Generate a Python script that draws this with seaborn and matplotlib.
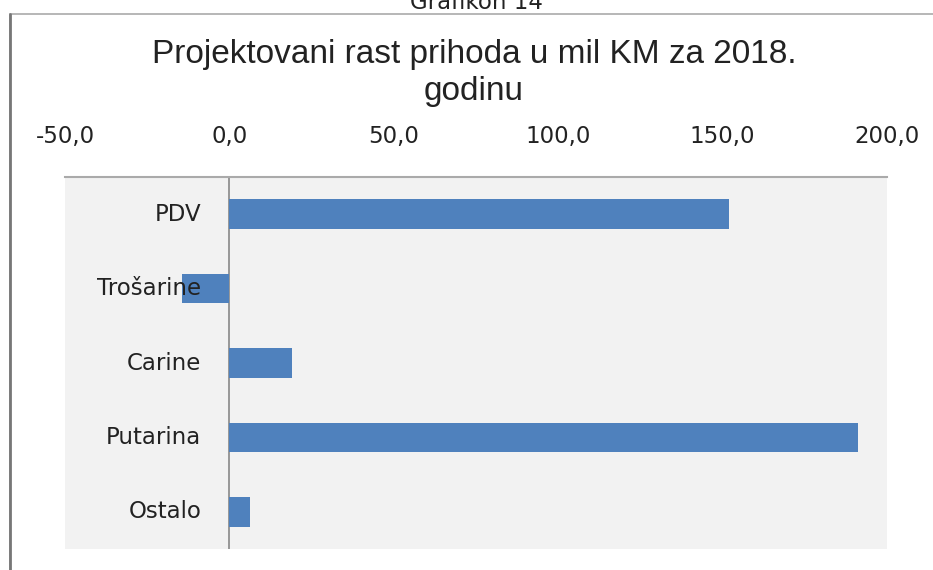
import numpy as np
import pandas as pd
import matplotlib
import matplotlib.pyplot as plt
import matplotlib.patches as mpatches
from matplotlib.lines import Line2D
from matplotlib.ticker import FuncFormatter
import seaborn as sns

# ── Data ─────────────────────────────────────────────────────────────────────
CATEGORIES = ['PDV', 'Trošarine', 'Carine', 'Putarina', 'Ostalo']
VALUES = [151.9, -14.4, 18.9, 191.3, 6.3]
X_TICKS = [-50, 0, 50, 100, 150, 200]

BAR_COLOR = '#4F81BD'

sns.set_theme(style='white')
matplotlib.rcParams['font.family'] = ['DejaVu Sans']

df = pd.DataFrame({'Kategorija': CATEGORIES, 'Vrijednost': VALUES})

fig = plt.figure(figsize=(9.33, 5.7), dpi=100)
ax = fig.add_axes([65 / 933, 21 / 570, 822 / 933, 372 / 570])

sns.barplot(data=df, y='Kategorija', x='Vrijednost', order=CATEGORIES,
            color=BAR_COLOR, orient='h', width=0.4, saturation=1,
            edgecolor='none', ax=ax, zorder=2)

ax.set_facecolor('#F2F2F2')
ax.set_xlim(X_TICKS[0], X_TICKS[-1])
ax.set_xticks(X_TICKS)
ax.xaxis.set_major_formatter(FuncFormatter(lambda v, p: f'{v:.1f}'.replace('.', ',')))
ax.xaxis.tick_top()
ax.tick_params(axis='x', length=0, pad=21, labelsize=16.5, labelcolor='#222')

# category labels sit inside the plot area, left of the zero line
ax.set_yticks(range(len(CATEGORIES)))
ax.set_yticklabels([])
ax.tick_params(axis='y', length=0)
for i, name in enumerate(CATEGORIES):
    ax.text(-8.5, i, name, ha='right', va='center', fontsize=16.5,
            color='#222', zorder=3)

ax.set_xlabel('')
ax.set_ylabel('')
ax.axvline(0, color='#888888', linewidth=1.2, zorder=0.5)

for side in ['left', 'right', 'bottom']:
    ax.spines[side].set_visible(False)
ax.spines['top'].set_color('#AAAAAA')
ax.spines['top'].set_linewidth(1.5)

# chart frame
fig.add_artist(mpatches.Rectangle((10 / 933, -0.05), 1.0, 1 - 14 / 570 + 0.05,
                                  transform=fig.transFigure, fill=False,
                                  edgecolor='#AAAAAA', linewidth=1.2))
fig.add_artist(Line2D([10 / 933, 10 / 933], [0, 1 - 14 / 570],
                      transform=fig.transFigure, color='#777777', linewidth=2))

fig.text(476 / 933, 1 - 9 / 570, 'Grafikon 14', ha='center', va='baseline',
         fontsize=16.5, color='#222')

title_font = dict(ha='center', va='baseline', fontsize=24, color='#222',
                  family=['Liberation Sans', 'DejaVu Sans'])
fig.text(474 / 933, 1 - 63 / 570, 'Projektovani rast prihoda u mil KM za 2018.', **title_font)
fig.text(474 / 933, 1 - 100 / 570, 'godinu', **title_font)

plt.savefig('out.png', dpi=100)
